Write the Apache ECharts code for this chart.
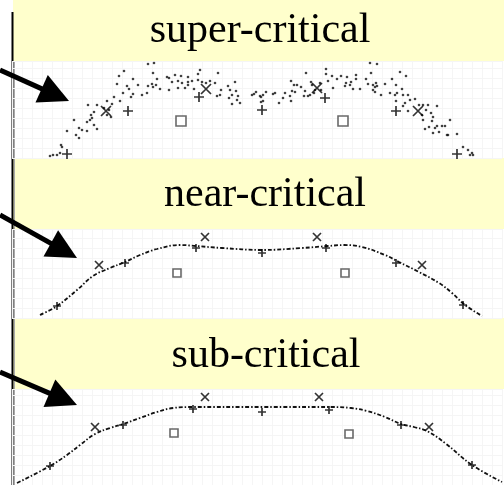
<!DOCTYPE html>
<html>
<head>
<meta charset="utf-8">
<script src="https://cdn.jsdelivr.net/npm/echarts@6/dist/echarts.min.js"></script>
<style>
  html, body { margin: 0; padding: 0; background: #fff; }
  #chart { width: 504px; height: 485px; }
</style>
</head>
<body>
<div id="chart"></div>
<script>
// panel titles
var titles = ["super-critical", "near-critical", "sub-critical"];

// super-critical: scattered particles round the front
var superDots = [
  [-138,87],[-143,82],[-129,79],[-145,74],[-135,72],[-133,69],[-139,65],[-129,64],[-131,61],[-148,61],
  [-155,57],[-142,57],[-150,54],[-165,53],[-174,53],[-158,50],[-153,48],[-168,46],[-171,43],[-155,43],
  [-151,41],[-172,38],[-170,40],[-188,38],[-175,36],[-168,33],[-165,29],[-183,30],[-180,28],[-175,27],
  [-195,27],[-186,23],[-183,20],[-201,13],[-200,11],[-212,2],[-209,3],[-205,3],[-202,5],
  [-114,94],[-108,95],[-109,85],[-105,79],[-124,73],[-114,72],[-110,74],[-109,71],[-106,73],[-102,69],
  [-120,63],[-115,65],[-95,81],[-93,80],[-87,83],[-81,82],[-74,81],[-64,84],[-62,88],[-90,76],
  [-84,77],[-80,75],[-74,76],[-70,77],[-64,78],[-60,76],[-93,68],[-84,70],[-77,70],[-74,73],
  [-68,69],[-44,85],[-47,75],[-52,77],[-56,75],[-41,68],[-45,62],[-42,63],[-34,72],[-32,68],
  [-27,76],[-26,67],[-30,63],[-33,60],[-25,58],[-30,54],[-24,62],[-22,55],[-10,63],[-8,64],[-6,66],
  [-2,62],[-1,61],[1,63],[4,66],[1,57],[-1,56],[11,64],[13,65],[17,55],[21,60],
  [23,65],[28,62],[29,57],[30,67],[33,66],[32,73],[29,77],[35,73],[39,71],[43,67],
  [42,62],[46,62],[48,63],[52,65],[53,68],[50,73],[49,76],[44,85],[64,89],[64,84],
  [70,82],[75,79],[79,82],[85,81],[94,83],[94,79],[89,76],[84,75],[83,72],[88,73],
  [91,69],[98,69],[71,70],[66,77],[58,75],[108,95],[115,94],[109,85],[104,79],[106,74],
  [111,73],[114,75],[113,71],[111,68],[113,66],[119,63],[115,72],[59,68],
  [138,86],[144,82],[130,79],[123,74],[134,73],[140,69],[128,65],[133,63],[135,65],[141,63],
  [146,63],[134,57],[148,58],[153,59],[141,52],[143,55],[146,47],[157,53],[161,53],[166,53],
  [164,48],[169,45],[175,52],[160,43],[161,38],[171,41],[170,37],[188,38],[163,29],[167,31],
  [173,30],[175,32],[180,32],[183,32],[171,25],[177,26],[185,23],[186,23],[195,24],[201,11],
  [206,8],[210,5],[208,3],[211,3]
];
var superCross = [[-156,47],[-56,69],[55,70],[156,47]];
var superPlus = [[-195,4],[-134,47],[-63,61],[0,48],[63,60],[134,47],[195,4]];
var superSquare = [[-81,37],[81,37]];

// near-critical
var nearCurve = [
  [-222,3],[-205,12],[-185,28],[-169,42],[-152,50],[-137,56],[-122,63],[-105,69],[-82,73],[-66,72],
  [-40,70],[0,68],[40,70],[66,72],[82,73],[100,71],[123,63],[137,56],[157,46],[177,35],
  [190,25],[203,13],[220,2]
];
var nearCross = [[-163,53],[-57,81],[55,81],[160,53]];
var nearPlus = [[-205,12],[-137,55],[-66,70],[0,65],[64,70],[134,55],[201,13]];
var nearSquare = [[-85,45],[83,45]];

// sub-critical
var subCurve = [
  [-245,2],[-212,19],[-195,30],[-182,40],[-167,51],[-152,57],[-139,61],[-122,67],[-105,73],[-89,77],
  [-69,78],[0,78],[69,78],[89,77],[105,74],[123,68],[139,61],[152,58],[165,54],[183,42],
  [210,20],[240,3]
];
var subCross = [[-167,58],[-57,88],[57,88],[167,58]];
var subPlus = [[-212,19],[-139,60],[-69,76],[0,73],[67,75],[139,60],[210,20]];
var subSquare = [[-88,52],[87,51]];

// pointer arrows on the page: start, tip
var arrows = [
  [[0,70],[69,101]],
  [[0,215],[77,258]],
  [[0,372],[77,405]]
];

var crossPath = "path://M0,0L10,10M10,0L0,10",
  plusPath = "path://M5,0L5,10M0,5L10,5",
  headLen = 30;

var panels = [
  { top: 61, height: 97, ymax: 97, band: [0, 61], tx: 260, ty: 31, dots: superDots, cross: superCross, plus: superPlus, square: superSquare, size: 10 },
  { top: 229, height: 89, ymax: 89, band: [158, 229], tx: 265, ty: 195, curve: nearCurve, cross: nearCross, plus: nearPlus, square: nearSquare, size: 8 },
  { top: 389, height: 96, ymax: 96, band: [318, 389], tx: 266, ty: 356, curve: subCurve, cross: subCross, plus: subPlus, square: subSquare, size: 8 }
];

var grids = [], xAxes = [], yAxes = [], series = [], graphics = [];

panels.forEach(function (p, i) {
  grids.push({ left: 12, width: 490, top: p.top, height: p.height });
  xAxes.push({
    gridIndex: i, type: "value", min: -250, max: 240, interval: 10,
    axisLine: { show: false }, axisTick: { show: false }, axisLabel: { show: false },
    splitLine: { lineStyle: { color: "#f5f5f5", width: 1 } }
  });
  yAxes.push({
    gridIndex: i, type: "value", min: 0, max: p.ymax, interval: 10,
    axisLine: { show: false }, axisTick: { show: false }, axisLabel: { show: false },
    splitLine: { lineStyle: { color: "#f5f5f5", width: 1 } }
  });
  graphics.push({
    type: "rect", shape: { x: 13, y: p.band[0], width: 491, height: p.band[1] - p.band[0] },
    style: { fill: "#ffffcc" }
  });
  graphics.push({
    type: "text",
    style: {
      text: titles[i], x: p.tx, y: p.ty, textAlign: "center", textVerticalAlign: "middle",
      font: "42px 'Liberation Serif'", fill: "#000"
    }
  });
  if (p.dots) {
    series.push({
      type: "scatter", xAxisIndex: i, yAxisIndex: i, data: p.dots,
      symbol: "circle", symbolSize: 2.6, itemStyle: { color: "#111" }
    });
  }
  if (p.curve) {
    series.push({
      type: "line", xAxisIndex: i, yAxisIndex: i, data: p.curve, smooth: 0.4,
      showSymbol: false, lineStyle: { color: "#111", width: 1.8, type: [4, 2, 1.5, 2] }
    });
  }
  series.push({
    type: "scatter", xAxisIndex: i, yAxisIndex: i, data: p.square, z: 3,
    symbol: "rect", symbolSize: p.size,
    itemStyle: { color: "#fff", borderColor: "#444", borderWidth: 1.6 }
  });
  series.push({
    type: "scatter", xAxisIndex: i, yAxisIndex: i, data: p.plus, z: 3,
    symbol: plusPath, symbolSize: p.size,
    itemStyle: { color: "none", borderColor: "#000", borderWidth: 1.7 }
  });
  series.push({
    type: "scatter", xAxisIndex: i, yAxisIndex: i, data: p.cross, z: 3,
    symbol: crossPath, symbolSize: p.size,
    itemStyle: { color: "none", borderColor: "#000", borderWidth: 1.7 }
  });
});

// page-sized hidden axes for the pointer arrows
grids.push({ left: 0, top: 0, right: 0, bottom: 0 });
xAxes.push({ gridIndex: 3, type: "value", min: 0, max: 504, show: false });
yAxes.push({ gridIndex: 3, type: "value", min: 0, max: 485, inverse: true, show: false });

var arrowData = arrows.map(function (a) {
  let dx = a[1][0] - a[0][0], dy = a[1][1] - a[0][1], len = Math.sqrt(dx * dx + dy * dy);
  // symbol is centred on the end point, so pull the end back by half the head
  return { coords: [a[0], [a[1][0] - dx / len * headLen / 2, a[1][1] - dy / len * headLen / 2]] };
});
series.push({
  type: "lines", coordinateSystem: "cartesian2d", xAxisIndex: 3, yAxisIndex: 3, z: 10,
  data: arrowData, symbol: ["none", "triangle"], symbolSize: [24, headLen],
  lineStyle: { color: "#000", width: 5, opacity: 1 }
});

// left frame lines
graphics.push({ type: "line", shape: { x1: 12.5, y1: 12, x2: 12.5, y2: 485 }, style: { stroke: "#000", lineWidth: 2 } });
graphics.push({ type: "line", shape: { x1: 14.5, y1: 61, x2: 14.5, y2: 485 }, style: { stroke: "#aaa", lineWidth: 1 } });

var myChart = echarts.init(document.getElementById("chart"));
myChart.setOption({
  animation: false,
  grid: grids,
  xAxis: xAxes,
  yAxis: yAxes,
  graphic: graphics,
  series: series
});
</script>
</body>
</html>
